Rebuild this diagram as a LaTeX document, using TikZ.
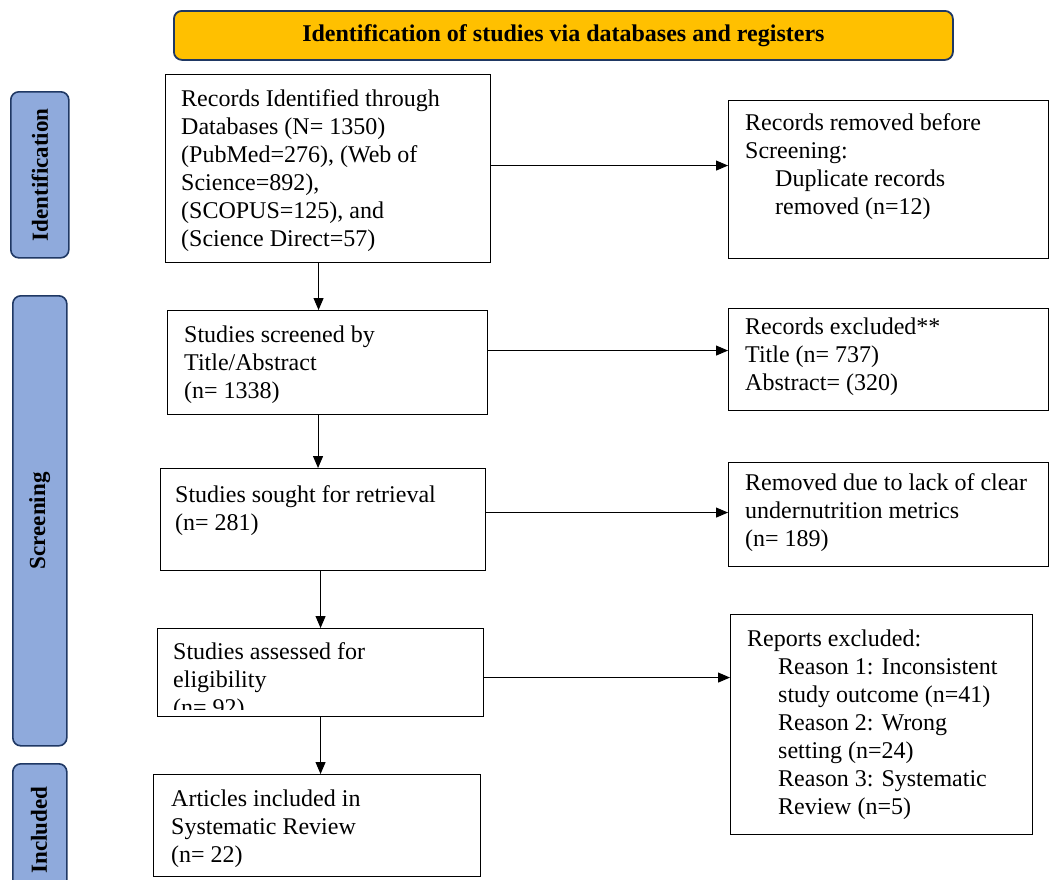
\documentclass[tikz,border=0pt]{standalone}
\usepackage{fontspec}
\setmainfont{Liberation Serif}
\usetikzlibrary{arrows.meta}
\definecolor{bannerfill}{HTML}{FFC000}
\definecolor{navy}{HTML}{1F3864}
\definecolor{sidefill}{HTML}{8FAADC}
\begin{document}
\begin{tikzpicture}[x=1pt,y=-1pt,
  box/.style={draw=black, line width=1.1pt, anchor=north west, inner sep=0pt},
  txt/.style={font=\fontsize{24}{28}\selectfont, align=left, anchor=base west, inner sep=0pt},
  side/.style={draw=navy, fill=sidefill, line width=1.6pt, rounded corners=8pt, anchor=north west, inner sep=0pt},
  sidelabel/.style={font=\fontsize{23}{26}\selectfont\bfseries, rotate=90, inner sep=0pt},
  arr/.style={-{Triangle[length=12pt,width=10pt]}, line width=1pt}]
\useasboundingbox (0,0) rectangle (1049,879);

% banner
\node[draw=navy, fill=bannerfill, line width=1.8pt, rounded corners=8pt, anchor=north west,
      minimum width=779pt, minimum height=49pt, inner sep=0pt,
      font=\fontsize{24}{28}\selectfont\bfseries] (banner) at (173,10)
      {\raisebox{-2pt}{Identification of studies via databases and registers}};

% side bars
\node[side, minimum width=58pt, minimum height=166pt] (sid) at (10,91) {};
\node[sidelabel] (sidl) at (sid.center) {Identification};
\node[side, minimum width=54pt, minimum height=450pt] (sscr) at (12,295) {};
\node[sidelabel] (sscrl) at (sscr.center) {Screening};
\node[side, minimum width=54pt, minimum height=140pt] (sinc) at (12,763) {};
\node[sidelabel] (sincl) at (39,830) {Included};

% left column boxes (text anchored at the baseline of its last line)
\node[box, minimum width=325pt, minimum height=188pt] (b1) at (165,74) {};
\node[txt] (t1) at (181,246) {Records Identified through\\Databases (N= 1350)\\(PubMed=276), (Web of\\Science=892),\\(SCOPUS=125), and\\(Science Direct=57)};

\node[box, minimum width=320pt, minimum height=104pt] (b2) at (167,310) {};
\node[txt] (t2) at (184,398) {Studies screened by\\Title/Abstract\\(n= 1338)};

\node[box, minimum width=325pt, minimum height=102pt] (b3) at (160,468) {};
\node[txt] (t3) at (175,530) {Studies sought for retrieval\\(n= 281)};

\begin{scope}
\clip (157,628) rectangle (483,709);
\node[txt] (t4) at (173,715) {Studies assessed for\\eligibility\\(n= 92)};
\end{scope}
\node[box, minimum width=326pt, minimum height=88pt] (b4) at (157,628) {};

\node[box, minimum width=327pt, minimum height=102pt] (b5) at (153,774) {};
\node[txt] (t5) at (171,862) {Articles included in\\Systematic Review\\(n= 22)};

% right column boxes
\node[box, minimum width=320pt, minimum height=158pt] (r1) at (728,100) {};
\node[txt] (u1) at (745,214) {Records removed before\\Screening:\\\hspace*{30pt}Duplicate records\\\hspace*{30pt}removed (n=12)};

\node[box, minimum width=320pt, minimum height=102pt] (r2) at (728,308) {};
\node[txt] (u2) at (745,390) {Records excluded**\\Title (n= 737)\\Abstract= (320)};

\node[box, minimum width=320pt, minimum height=104pt] (r3) at (728,462) {};
\node[txt] (u3) at (745,546) {Removed due to lack of clear\\undernutrition metrics\\(n= 189)};

\node[box, minimum width=302pt, minimum height=220pt] (r4) at (730,614) {};
\node[txt] (u4) at (747,814) {Reports excluded:\\\hspace*{31pt}Reason 1: Inconsistent\\\hspace*{31pt}study outcome (n=41)\\\hspace*{31pt}Reason 2: Wrong\\\hspace*{31pt}setting (n=24)\\\hspace*{31pt}Reason 3: Systematic\\\hspace*{31pt}Review (n=5)};

% horizontal arrows
\draw[arr] ([yshift=3pt]b1.east) -- ([yshift=3pt]b1.east -| r1.west);
\draw[arr] ([yshift=12pt]b2.east) -- ([yshift=12pt]b2.east -| r2.west);
\draw[arr] ([yshift=7pt]b3.east) -- ([yshift=7pt]b3.east -| r3.west);
\draw[arr] ([yshift=-5pt]b4.east) -- ([yshift=-5pt]b4.east -| r4.west);

% vertical arrows
\draw[arr] ([xshift=-9.5pt]b1.south) -- ([xshift=-9.5pt]b1.south |- b2.north);
\draw[arr] ([xshift=-9.5pt]b2.south) -- ([xshift=-9.5pt]b2.south |- b3.north);
\draw[arr] ([xshift=-2.5pt]b3.south) -- ([xshift=-2.5pt]b3.south |- b4.north);
\draw[arr] ([xshift=0pt]b4.south) -- ([xshift=0pt]b4.south |- b5.north);
\end{tikzpicture}
\end{document}
